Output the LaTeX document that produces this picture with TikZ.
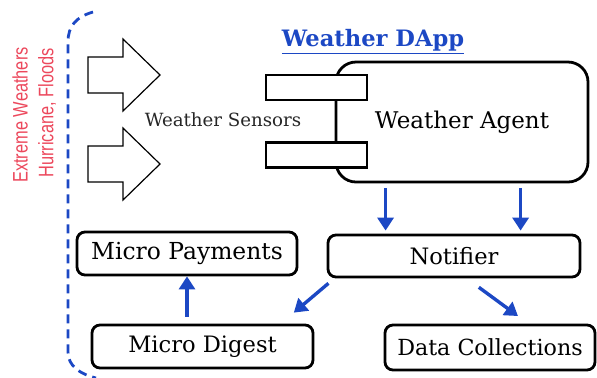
\documentclass[tikz,border=0pt]{standalone}
\usepackage{fontspec}
\setmainfont{DejaVu Serif}
\newfontfamily\narrowsans[FakeStretch=0.78]{Liberation Sans}
\usetikzlibrary{arrows.meta,calc}
\definecolor{dappblue}{RGB}{28,72,196}
\definecolor{stormred}{RGB}{236,72,92}

\begin{document}
\begin{tikzpicture}[x=0.5pt, y=-0.5pt, >={Triangle[width=8pt,length=6.5pt]},
    box/.style={draw, line width=1.4pt, rounded corners=4pt, inner sep=1pt, font=\fontsize{11.3}{13}\selectfont},
    port/.style={draw, fill=white, line width=1.4pt, minimum width=50.5pt, minimum height=12.5pt, inner sep=0pt},
    flow/.style={->, draw=dappblue, line width=1.7pt},
    blockarrow/.style={draw, line width=0.6pt, line join=miter}
]
  \useasboundingbox (0,0) rectangle (597,377);

  % outer boundary and hazards
  \draw[dappblue, line width=1.4pt, dash pattern=on 4.5pt off 3pt]
    (93,12) .. controls (76,17) and (68,26) .. (68,42) -- (68,352)
    .. controls (68,366) and (80,374) .. (96,378);
  \node[rotate=90, text=stormred, font=\narrowsans\fontsize{10.5}{12}\selectfont] (hazard1) at (20,115) {Extreme Weathers};
  \node[rotate=90, text=stormred, font=\narrowsans\fontsize{10.5}{12}\selectfont] (hazard2) at (47,113) {Hurricane, Floods};

  \foreach \yc in {75,164}{
    \draw[blockarrow] (88,\yc-18) -- (123,\yc-18) -- (123,\yc-36) -- (160,\yc)
      -- (123,\yc+36) -- (123,\yc+18) -- (88,\yc+18) -- cycle;
  }

  \node[text=dappblue, font=\bfseries\fontsize{11.3}{13}\selectfont] (title) at (373,42) {\underline{Weather DApp}};

  % agent with its sensor ports
  \node[box, rounded corners=10pt, minimum width=126pt, minimum height=60pt, font=\fontsize{11.5}{13}\selectfont] (agent) at (462,122) {Weather Agent};
  \node[port] (port1) at (316.5,87.5) {};
  \node[port] (port2) at (316.5,155) {};
  \node[font=\fontsize{9.1}{11}\selectfont, text=black!85] (sensors) at (223,120) {Weather Sensors};

  \node[box, minimum width=126pt, minimum height=21pt] (notifier) at (454,256) {Notifier};
  \node[box, minimum width=110pt, minimum height=21.5pt, font=\fontsize{11.7}{13}\selectfont] (payments) at (187,253.5) {Micro Payments};
  \node[box, minimum width=110.5pt, minimum height=21.5pt] (digest) at (202.5,346.5) {Micro Digest};
  \node[box, minimum width=105pt, minimum height=22.5pt, font=\fontsize{11.1}{13}\selectfont] (data) at (490,347.5) {Data Collections};

  \coordinate (out1) at ($(agent.south west)!0.2!(agent.south east)$);
  \coordinate (out2) at ($(agent.south west)!0.73!(agent.south east)$);
  \draw[flow, shorten <=2.5pt, shorten >=1.5pt] (out1) -- (out1 |- notifier.north);
  \draw[flow, shorten <=2.5pt, shorten >=1.5pt] (out2) -- (out2 |- notifier.north);

  \coordinate (n1) at ($(notifier.south west)!0.03!(notifier.south east)$);
  \coordinate (n2) at ($(notifier.south west)!0.55!(notifier.south east)$);
  \coordinate (d1) at ($(digest.north west)!0.85!(digest.north east)$);
  \coordinate (d2) at ($(data.north west)!0.68!(data.north east)$);
  \draw[flow, shorten <=3.8pt, shorten >=8.5pt] (n1) -- (d1);
  \draw[flow, shorten <=7.5pt, shorten >=6.4pt] (n2) -- (d2);
  \draw[flow, shorten <=3.5pt] (digest.north -| payments) -- (payments.south);
\end{tikzpicture}
\end{document}
